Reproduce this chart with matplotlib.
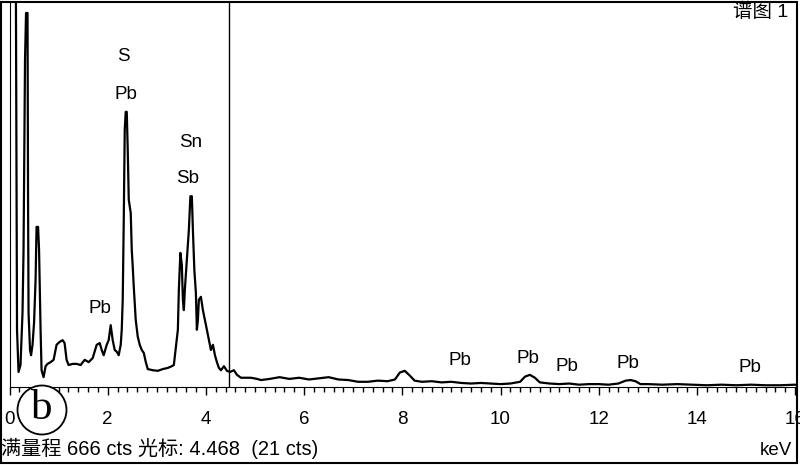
import numpy as np
import matplotlib.pyplot as plt
from matplotlib.patches import Ellipse, Rectangle

plt.rcParams['font.family'] = ['Liberation Sans', 'Noto Sans CJK SC']

# EDS spectrum (keV, counts)
energy = [0.0, 0.01, 0.122, 0.153, 0.184, 0.224, 0.265, 0.286, 0.316, 0.337,
          0.367, 0.378, 0.388, 0.418, 0.439, 0.469, 0.50, 0.531, 0.551, 0.582,
          0.602, 0.633, 0.653, 0.694, 0.735, 0.776, 0.837, 0.898, 0.959, 1.02,
          1.082, 1.122, 1.163, 1.204, 1.286, 1.367, 1.449, 1.531, 1.612, 1.694,
          1.776, 1.837, 1.878, 1.918, 1.98, 2.02, 2.061, 2.102, 2.143, 2.184,
          2.224, 2.265, 2.286, 2.306, 2.327, 2.347, 2.367, 2.388, 2.408, 2.429,
          2.469, 2.49, 2.51, 2.531, 2.571, 2.612, 2.653, 2.694, 2.735, 2.776,
          2.816, 2.918, 3.02, 3.122, 3.224, 3.306, 3.347, 3.388, 3.429, 3.449,
          3.48, 3.51, 3.531, 3.551, 3.571, 3.612, 3.653, 3.684, 3.714, 3.735,
          3.765, 3.796, 3.816, 3.837, 3.857, 3.898, 3.939, 3.98, 4.02, 4.061,
          4.102, 4.143, 4.184, 4.224, 4.265, 4.306, 4.367, 4.429, 4.49, 4.571,
          4.633, 4.714, 4.816, 4.918, 5.041, 5.122,
          5.3, 5.5, 5.7, 5.9, 6.1, 6.3, 6.5, 6.7, 6.9, 7.1, 7.3, 7.5, 7.7, 7.85,
          7.95, 8.05, 8.15, 8.25, 8.4, 8.6, 8.8, 9.0, 9.2, 9.4, 9.6, 9.8, 10.0,
          10.2, 10.4, 10.5, 10.6, 10.7, 10.8, 11.0, 11.2, 11.4, 11.6, 11.8, 12.0,
          12.2, 12.4, 12.55, 12.65, 12.75, 12.85, 13.0, 13.3, 13.6, 13.9, 14.2,
          14.5, 14.8, 15.1, 15.4, 15.7, 16.0, 16.08]
counts = [0, 900, 900, 99, 26, 38, 128, 237, 566, 647,
          647, 323, 128, 64, 55, 73, 111, 185, 277, 277,
          237, 99, 29, 17, 36, 40, 43, 47, 73, 78,
          81, 76, 47, 38, 40, 40, 38, 47, 43, 50,
          73, 76, 64, 55, 73, 81, 107, 81, 64, 61,
          55, 73, 99, 151, 289, 445, 476, 476, 410, 324,
          301, 237, 208, 173, 116, 87, 73, 64, 59, 43,
          31, 29, 28, 31, 33, 36, 38, 69, 99, 168,
          232, 211, 151, 133, 168, 220, 272, 330, 330, 272,
          202, 163, 99, 116, 151, 156, 133, 116, 99, 81,
          64, 73, 55, 43, 33, 29, 36, 28, 26, 29,
          21, 16, 16, 16, 14, 12,
          14, 17, 14, 16, 13, 15, 17, 13, 12, 9, 9, 11, 10, 13,
          25, 28, 20, 11, 9, 10, 8, 9, 7, 6, 7, 6, 5,
          6, 9, 18, 21, 16, 8, 6, 5, 6, 4, 5, 5,
          4, 6, 11, 12, 10, 5, 5, 4, 5, 4, 3,
          4, 3, 4, 3, 3, 4, 3]

peak_labels = ["S", "Pb", "Sn", "Sb", "Pb", "Pb", "Pb", "Pb", "Pb", "Pb"]
label_x = [2.33, 2.37, 3.68, 3.62, 1.84, 9.18, 10.56, 11.35, 12.6, 15.08]
label_y = [571, 506, 423, 360, 136, 45, 50, 36, 40, 33]

full_scale = 666
cursor_kev = 4.468
cursor_cts = 21

W, H = 800, 465
fig = plt.figure(figsize=(8, 4.65), dpi=100)
ax = fig.add_axes([9.5 / W, (H - 387) / H, (797 - 9.5) / W, 385 / H])

ax.plot(energy, counts, color="black", lw=1.6)
ax.axvline(cursor_kev, color="black", lw=1)
for t, x, y in zip(peak_labels, label_x, label_y):
    ax.text(x, y, t, fontsize=13.5, ha="center", va="center")

ax.set_xlim(0, 787.5 / 49.1)
ax.set_ylim(0, full_scale)
ax.set_yticks([])
ax.set_xticks(np.arange(0, 17, 2))
ax.set_xticks(np.arange(0, 16.05, 0.2), minor=True)
ax.tick_params(axis="x", which="major", direction="out", length=6, width=1,
               labelsize=13.5, pad=11)
ax.tick_params(axis="x", which="minor", direction="out", length=3.5, width=1)
ax.spines["top"].set_visible(False)
ax.spines["right"].set_visible(False)

fig.text(1 / W, 1 - 448 / H, "满量程 %d cts 光标: %.3f  (%d cts)" % (full_scale, cursor_kev, cursor_cts),
         fontsize=14.5, ha="left", va="center")
fig.text(792 / W, 1 - 450 / H, "keV", fontsize=13.5, ha="right", va="center")
fig.text(788 / W, 1 - 12 / H, "谱图 1", fontsize=14, ha="right", va="center")

# circled (b)
fig.add_artist(Ellipse((42 / W, 1 - 410 / H), 49 / W, 49 / H, transform=fig.transFigure,
                       facecolor="white", edgecolor="black", lw=1.3, zorder=10))
fig.text(42 / W, 1 - 409 / H, "b", fontsize=31, family="Liberation Serif",
         ha="center", va="center", zorder=11)

# outer frame
fig.add_artist(Rectangle((1 / W, 2 / H), 796 / W, 461 / H, transform=fig.transFigure,
                         fill=False, edgecolor="black", lw=1.5))

fig.savefig("out.png", dpi=100)
